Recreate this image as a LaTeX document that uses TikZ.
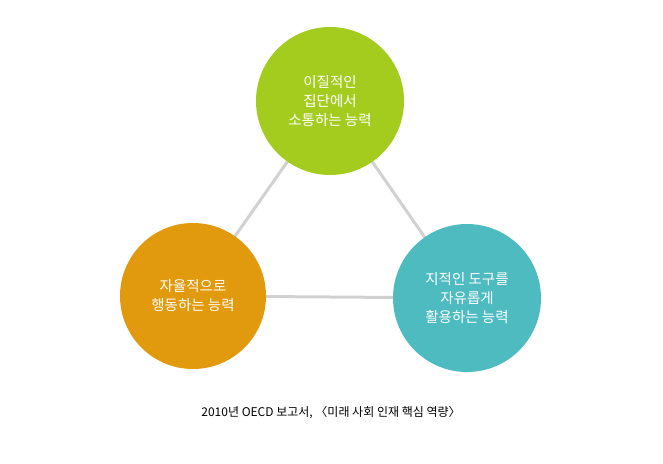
\documentclass[tikz,border=0pt]{standalone}
\usepackage{fontspec}
\setmainfont{Noto Sans CJK KR}
\begin{document}
\begin{tikzpicture}[x=1pt,y=-1pt,
  circ/.style={circle,minimum size=148pt,inner sep=0pt,text=white,align=center,font=\fontsize{14.5}{19}\selectfont},
  link/.style={draw=black!18,line width=3pt}]
\useasboundingbox (0,0) rectangle (663,463);
\definecolor{cg}{HTML}{A4CC1F}
\definecolor{co}{HTML}{E19A0D}
\definecolor{ct}{HTML}{4EBBC1}
\coordinate (tc) at (330,101);
\coordinate (lc) at (193,296);
\coordinate (rc) at (467,298);
\draw[link] (tc) -- (lc) -- (rc) -- cycle;
\node[circ,fill=cg] (t) at (tc) {이질적인\\집단에서\\소통하는 능력};
\node[circ,fill=co,minimum size=146pt] (l) at (lc) {자율적으로\\행동하는 능력};
\node[circ,fill=ct] (r) at (rc) {지적인 도구를\\자유롭게\\활용하는 능력};
\node[font=\fontsize{12}{14}\selectfont] (cap) at (331,413) {2010년 OECD 보고서, 〈미래 사회 인재 핵심 역량〉};
\end{tikzpicture}
\end{document}
